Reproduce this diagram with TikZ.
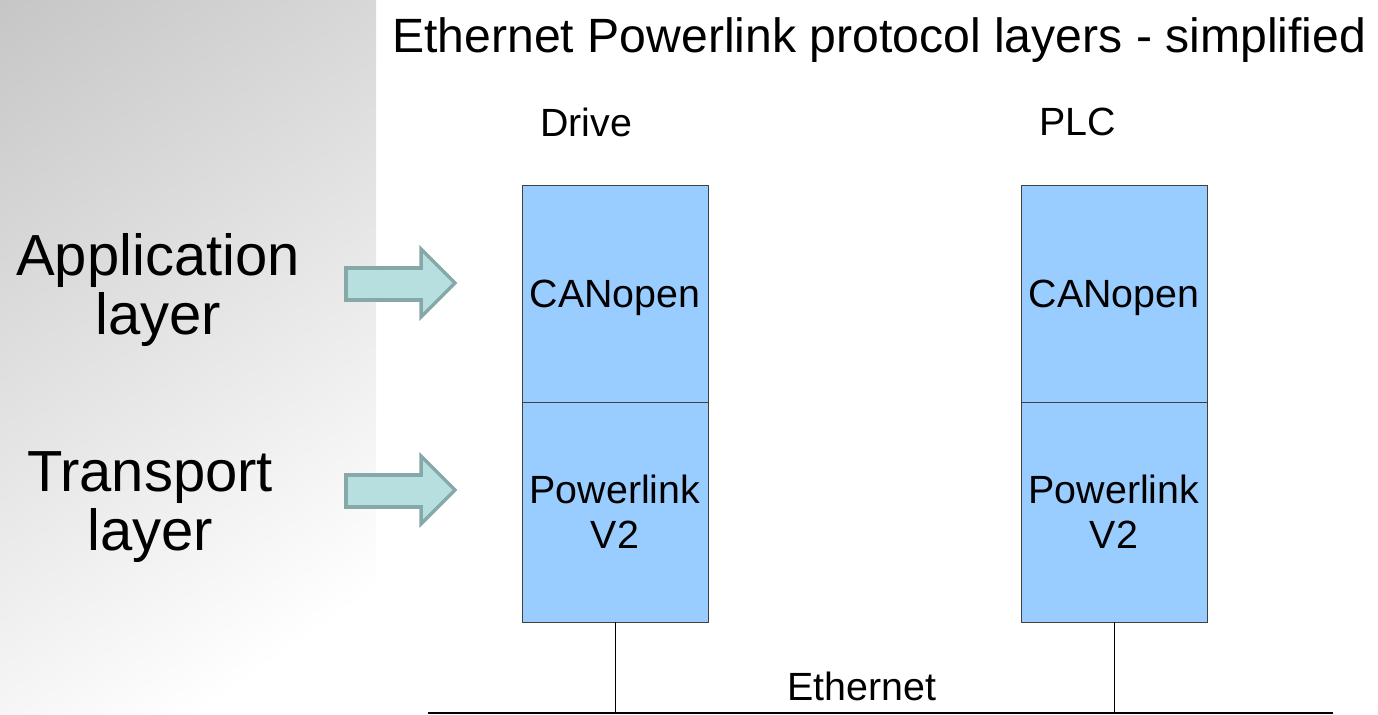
\documentclass[tikz,border=0pt]{standalone}
\usepackage{fontspec}
\setmainfont{Liberation Sans}
\usepackage{xcolor}
\usepackage{tikz}
\usetikzlibrary{positioning}

\definecolor{layerblue}{HTML}{99CCFF}
\definecolor{arrowfill}{HTML}{B8DFE0}
\definecolor{arrowedge}{HTML}{86A8A8}
\definecolor{panelgray}{RGB}{198,198,198}
\definecolor{panelmid}{RGB}{240,240,240}

\begin{document}
\begin{tikzpicture}[x=0.02cm, y=-0.02cm,
  layerbox/.style={draw=black!75, fill=layerblue, minimum width=3.72cm, outer sep=0pt,
    align=center, font=\fontsize{22.4}{25.6}\selectfont},
  caption/.style={font=\fontsize{22.4}{25.6}\selectfont, inner sep=0pt},
  sidelabel/.style={font=\fontsize{33}{34}\selectfont, align=center, inner sep=0pt},
  sidearrow/.style={draw=arrowedge, fill=arrowfill, line width=2pt, line join=miter}]
  \useasboundingbox (0,0) rectangle (1378,715);
  % grey panel on the left
  \begin{scope}
    \clip (0,0) rectangle (376,715);
    \fill[white] (0,0) rectangle (376,715);
    \begin{scope}[transform canvas={rotate=35}]
      \shade[top color=panelgray, middle color=panelmid, bottom color=white] (-900,0) rectangle (900,700);
    \end{scope}
  \end{scope}

  \node[anchor=west, inner sep=0pt, font=\fontsize{27.4}{30}\selectfont] (title) at (392,40)
    {Ethernet Powerlink protocol layers - simplified};

  \node[sidelabel] (applbl) at (158,290) {Application\\layer};
  \node[sidelabel] (trnlbl) at (150,507) {Transport\\layer};

  % block arrows
  \draw[sidearrow] (346,268) -- (421,268) -- (421,249) -- (455,283) -- (421,317) -- (421,300) -- (346,300) -- cycle;
  \draw[sidearrow] (346,475) -- (421,475) -- (421,456) -- (455,490) -- (421,524) -- (421,507) -- (346,507) -- cycle;

  % stacks
  \node[caption] (drive) at (586,122) {Drive};
  \node[caption] (plc) at (1078,122) {PLC};

  \node[layerbox, minimum height=4.34cm, text depth=0pt] (drvapp) at (615,293.5) {CANopen};
  \node[layerbox, minimum height=4.4cm, below=0pt of drvapp] (drvtrn) {Powerlink\\V2};
  \node[layerbox, minimum height=4.34cm, text depth=0pt] (plcapp) at (1114,293.5) {CANopen};
  \node[layerbox, minimum height=4.4cm, below=0pt of plcapp] (plctrn) {Powerlink\\V2};

  % bus
  \coordinate (busL) at (428,713);
  \coordinate (busR) at (1333,713);
  \draw[line width=1pt] (busL) -- (busR);
  \draw (drvtrn.south) -- (drvtrn.south |- busL);
  \draw (plctrn.south) -- (plctrn.south |- busL);
  \node[caption] (eth) at (862,686) {Ethernet};
\end{tikzpicture}
\end{document}
